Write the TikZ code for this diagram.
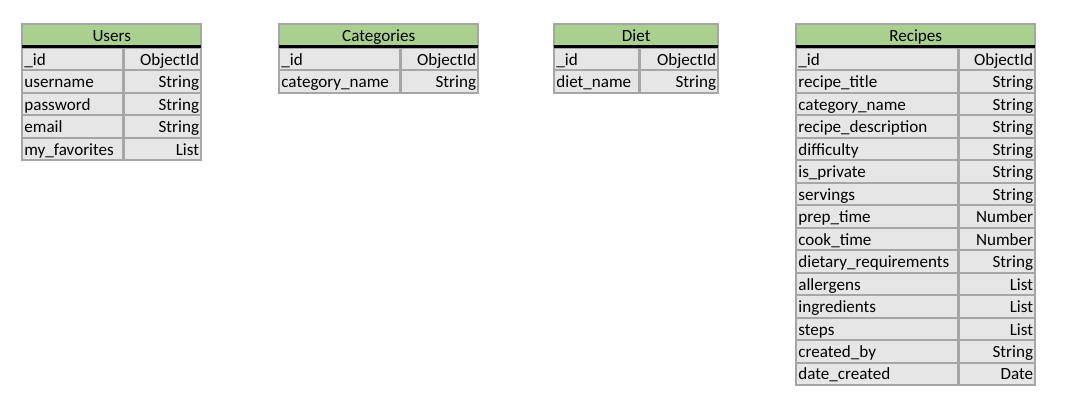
\documentclass[tikz,border=0pt]{standalone}
\usepackage{fontspec}
\setmainfont{Carlito}
\definecolor{HeaderGreen}{RGB}{169,208,142}
\definecolor{CellGrey}{RGB}{231,230,230}
\definecolor{BorderGrey}{RGB}{166,166,166}

% one table: name, left, divider, right, title, field/type list
\newcommand{\dbtable}[6]{%
  \pgfmathsetmacro\headw{(#4-#2)*0.75-4}
  \pgfmathsetmacro\fieldw{(#3-#2)*0.75-4}
  \pgfmathsetmacro\typew{(#4-#3)*0.75-4}
  \node[head, text width=\headw pt] (#1-head) at (#2,24) {#5};
  \foreach \f/\t [count=\i] in {#6} {
    \node[field, text width=\fieldw pt] (#1-f\i) at (#2,{48+(\i-1)*22.47}) {\f};
    \node[ftype, text width=\typew pt] (#1-t\i) at (#3,{48+(\i-1)*22.47}) {\t};
  }
  \draw[headline] (#1-head.south west) -- (#1-head.south east);
}

\begin{document}
\begin{tikzpicture}[x=0.75pt, y=-0.75pt,
    cell/.style={draw=BorderGrey, line width=1.5pt, anchor=north west, outer sep=0pt,
      inner xsep=1.8pt, inner ysep=0pt, minimum height=16.85pt,
      text height=11.6pt, text depth=2.4pt, font=\fontsize{12.8}{14}\selectfont},
    head/.style={cell, fill=HeaderGreen, align=center, minimum height=17.25pt},
    field/.style={cell, fill=CellGrey, align=left},
    ftype/.style={cell, fill=CellGrey, align=right},
    headline/.style={line width=2.25pt, black}]
  \useasboundingbox (0,0) rectangle (1069,413);

  % Users
  \dbtable{users}{22}{124}{202}{Users}{\_id/ObjectId, username/String, password/String,
    email/String, my\_favorites/List}

  % Categories
  \dbtable{cats}{279}{401}{479}{Categories}{\_id/ObjectId, category\_name/String}

  % Diet
  \dbtable{diet}{554}{640}{719}{Diet}{\_id/ObjectId, diet\_name/String}

  % Recipes
  \dbtable{recipes}{796}{959}{1036}{Recipes}{\_id/ObjectId, recipe\_title/String,
    category\_name/String, recipe\_description/String, difficulty/String,
    is\_private/String, servings/String, prep\_time/Number, cook\_time/Number,
    dietary\_requirements/String, allergens/List, ingredients/List, steps/List,
    created\_by/String, date\_created/Date}
\end{tikzpicture}
\end{document}
